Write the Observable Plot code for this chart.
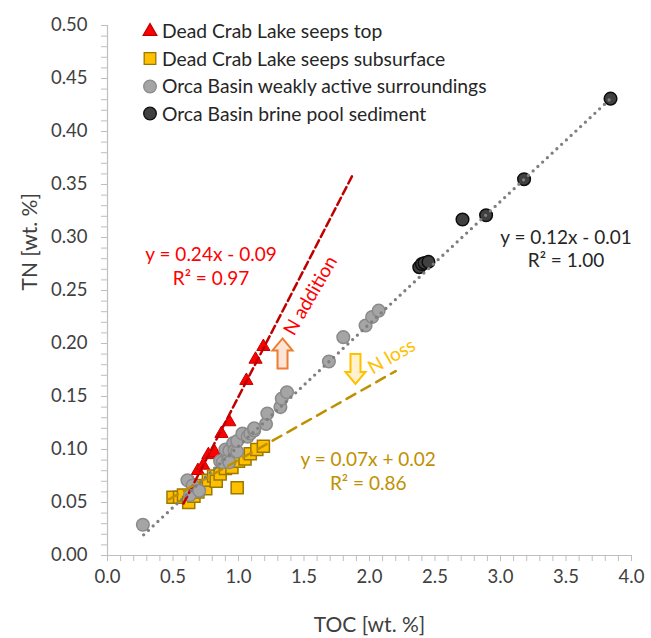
<!DOCTYPE html>
<html>
<head>
<meta charset="utf-8">
<script src="https://cdn.jsdelivr.net/npm/d3@7"></script>
<script src="https://cdn.jsdelivr.net/npm/@observablehq/plot@0.6"></script>
<style>
  body { margin: 0; background: #fff; }
  #wrap { position: relative; width: 651px; height: 638px; font-family: Lato, "Open Sans", sans-serif; }
  #legend { position: absolute; left: 141px; top: 17px; }
  .row { display: flex; align-items: center; height: 27.5px; font-size: 19.3px; color: #262626; white-space: nowrap; }
  .row svg { margin-right: 3px; }
</style>
</head>
<body>
<div id="wrap"><div id="legend"></div></div>
<script>
// ---- Series (TOC [wt. %], TN [wt. %]) ----
const seriesNames = [
  "Dead Crab Lake seeps top",
  "Dead Crab Lake seeps subsurface",
  "Orca Basin weakly active surroundings",
  "Orca Basin brine pool sediment"
];

const topTOC = [0.65, 0.69, 0.73, 0.77, 0.82, 0.87, 0.93, 1.06, 1.13, 1.19];
const topTN  = [0.068, 0.080, 0.085, 0.095, 0.097, 0.115, 0.126, 0.165, 0.185, 0.197];

const subTOC = [0.50, 0.55, 0.58, 0.62, 0.66, 0.69, 0.72, 0.75, 0.77, 0.81, 0.83, 0.86, 0.90, 0.93, 0.95, 0.99, 1.00, 1.05, 1.09, 1.14, 1.19];
const subTN  = [0.055, 0.055, 0.057, 0.050, 0.056, 0.060, 0.066, 0.063, 0.071, 0.075, 0.070, 0.077, 0.082, 0.088, 0.083, 0.064, 0.089, 0.091, 0.096, 0.100, 0.103];

const orcaTOC = [0.27, 0.61, 0.63, 0.65, 0.70, 0.86, 0.88, 0.90, 0.92, 0.93, 0.93, 0.96, 0.97, 0.99, 0.99, 1.03, 1.07, 1.09, 1.12, 1.12, 1.21, 1.22, 1.32, 1.33, 1.37, 1.69, 1.80, 1.97, 2.02, 2.07];
const orcaTN  = [0.029, 0.071, 0.057, 0.066, 0.061, 0.089, 0.088, 0.100, 0.090, 0.088, 0.099, 0.106, 0.099, 0.098, 0.108, 0.115, 0.112, 0.115, 0.118, 0.120, 0.124, 0.134, 0.140, 0.148, 0.154, 0.183, 0.206, 0.217, 0.225, 0.231];

const brineTOC = [2.38, 2.40, 2.42, 2.45, 2.71, 2.89, 3.18, 3.84];
const brineTN  = [0.272, 0.275, 0.276, 0.277, 0.317, 0.321, 0.355, 0.431];

// ---- Trendlines (end points) ----
const trendTopTOC = [0.58, 1.88];
const trendTopTN  = [0.049, 0.361];
const trendSubTOC = [0.47, 2.20];
const trendSubTN  = [0.053, 0.174];
const trendOrcaTOC = [0.276, 3.84];
const trendOrcaTN  = [0.0195, 0.431];

// ---- Annotations ----
const eqLabels = ["y = 0.24x - 0.09", "R² = 0.97", "y = 0.07x + 0.02", "R² = 0.86", "y = 0.12x - 0.01", "R² = 1.00"];
const eqTOC = [0.79, 0.79, 1.99, 1.99, 3.50, 3.50];
const eqTN  = [0.284, 0.261, 0.0905, 0.068, 0.300, 0.278];
const eqGroup = ["top", "top", "sub", "sub", "orca", "orca"];

const noteLabels = ["N addition", "N loss"];
const noteTOC = [1.55, 2.17];
const noteTN  = [0.245, 0.1875];

const arrowTOC = [1.336, 1.893];
const arrowTN  = [0.1906, 0.176];

// ---- Axis ticks ----
const xMajor = d3.range(0, 9).map(i => i * 0.5);
const xMinor = d3.range(0, 41).map(i => i / 10);
const yMajor = d3.range(0, 11).map(i => i * 0.05);
const yMinor = d3.range(0, 51).map(i => i / 100);

const pts = (xs, ys) => xs.map((x, i) => ({x, y: ys[i]}));

const axisGray = "#bfbfbf";
const labelColor = "#404040";

const arrowUp = {draw(ctx) {
  ctx.moveTo(0, -15); ctx.lineTo(10, -3); ctx.lineTo(5, -3); ctx.lineTo(5, 15);
  ctx.lineTo(-5, 15); ctx.lineTo(-5, -3); ctx.lineTo(-10, -3); ctx.closePath();
}};
const arrowDown = {draw(ctx) {
  ctx.moveTo(0, 15); ctx.lineTo(10, 3); ctx.lineTo(5, 3); ctx.lineTo(5, -15);
  ctx.lineTo(-5, -15); ctx.lineTo(-5, 3); ctx.lineTo(-10, 3); ctx.closePath();
}};

const eqData = eqLabels.map((t, i) => ({t, x: eqTOC[i], y: eqTN[i], g: eqGroup[i]}));
const eqColors = {top: "#ff0000", sub: "#bf9000", orca: "#262626"};

const chart = Plot.plot({
  width: 651,
  height: 638,
  marginLeft: 107,
  marginRight: 20,
  marginTop: 25,
  marginBottom: 83,
  x: {domain: [0, 4], label: null},
  y: {domain: [0, 0.5], label: null},
  style: {fontFamily: "Lato, 'Open Sans', sans-serif", background: "white", overflow: "visible"},
  marks: [
    Plot.ruleX([0], {stroke: axisGray, strokeWidth: 1.2}),
    Plot.ruleY([0], {stroke: axisGray, strokeWidth: 1.2}),
    Plot.axisX(xMinor, {tickSize: 6, stroke: axisGray, tickFormat: () => "", label: null}),
    Plot.axisX(xMajor, {tickSize: 0, tickPadding: 14, tickFormat: d3.format(".1f"), fill: labelColor, fontSize: 18.5, label: null}),
    Plot.axisY(yMinor, {tickSize: 6, stroke: axisGray, tickFormat: () => "", label: null}),
    Plot.axisY(yMajor, {tickSize: 0, tickPadding: 20, tickFormat: d3.format(".2f"), fill: labelColor, fontSize: 18.5, label: null}),
    Plot.text(["TOC [wt. %]"], {frameAnchor: "bottom", dy: 76, fontSize: 21, fill: labelColor}),
    Plot.text(["TN [wt. %]"], {frameAnchor: "left", dx: -77, rotate: -90, fontSize: 21, fill: labelColor}),

    // series markers
    Plot.dot(pts(topTOC, topTN), {x: "x", y: "y", symbol: "triangle", r: 4.9, fill: "#ff0000", stroke: "#c00000", strokeWidth: 1}),
    Plot.dot(pts(subTOC, subTN), {x: "x", y: "y", symbol: "square", r: 6.8, fill: "#ffc000", stroke: "#9c7800", strokeWidth: 1.5}),
    Plot.dot(pts(orcaTOC, orcaTN), {x: "x", y: "y", r: 6.3, fill: "#a5a5a5", stroke: "#8a8a8a", strokeWidth: 1.5}),
    Plot.dot(pts(brineTOC, brineTN), {x: "x", y: "y", r: 6.3, fill: "#404040", stroke: "#0d0d0d", strokeWidth: 1.5}),

    // trendlines
    Plot.line(pts(trendTopTOC, trendTopTN), {x: "x", y: "y", stroke: "#c00000", strokeWidth: 2.5, strokeDasharray: "8,4"}),
    Plot.line(pts(trendSubTOC, trendSubTN), {x: "x", y: "y", stroke: "#bf9000", strokeWidth: 2.5, strokeDasharray: "10,7"}),
    Plot.line(pts(trendOrcaTOC, trendOrcaTN), {x: "x", y: "y", stroke: "#7f7f7f", strokeWidth: 3.3, strokeDasharray: "0,6.5", strokeLinecap: "round"}),

    // arrows
    Plot.dot([{x: arrowTOC[0], y: arrowTN[0]}], {x: "x", y: "y", symbol: arrowUp, r: 5, fill: "#fbe5d6", stroke: "#ed7d31", strokeWidth: 2}),
    Plot.dot([{x: arrowTOC[1], y: arrowTN[1]}], {x: "x", y: "y", symbol: arrowDown, r: 5, fill: "#fff2cc", stroke: "#ffc000", strokeWidth: 2}),

    // notes
    Plot.text([{t: noteLabels[0], x: noteTOC[0], y: noteTN[0]}], {x: "x", y: "y", text: "t", rotate: -60, fontSize: 19, fill: "#ff0000"}),
    Plot.text([{t: noteLabels[1], x: noteTOC[1], y: noteTN[1]}], {x: "x", y: "y", text: "t", rotate: -30, fontSize: 19, fill: "#ffc000"}),

    // equations
    Plot.text(eqData, {x: "x", y: "y", text: "t", fontSize: 19, fill: d => eqColors[d.g]})
  ]
});

document.getElementById("wrap").prepend(chart);

// legend
const legendSymbols = [
  {type: d3.symbolTriangle, size: 80, fill: "#ff0000", stroke: "#c00000"},
  {type: d3.symbolSquare, size: 135, fill: "#ffc000", stroke: "#9c7800"},
  {type: d3.symbolCircle, size: 125, fill: "#a5a5a5", stroke: "#8a8a8a"},
  {type: d3.symbolCircle, size: 125, fill: "#404040", stroke: "#0d0d0d"}
];
const legend = d3.select("#legend");
seriesNames.forEach((name, i) => {
  const row = legend.append("div").attr("class", "row");
  const s = legendSymbols[i];
  const svg = row.append("svg").attr("width", 18).attr("height", 18);
  svg.append("path")
    .attr("transform", "translate(9,9.5)")
    .attr("d", d3.symbol(s.type, s.size)())
    .attr("fill", s.fill).attr("stroke", s.stroke).attr("stroke-width", 1.3);
  row.append("span").text(name);
});
</script>
</body>
</html>
